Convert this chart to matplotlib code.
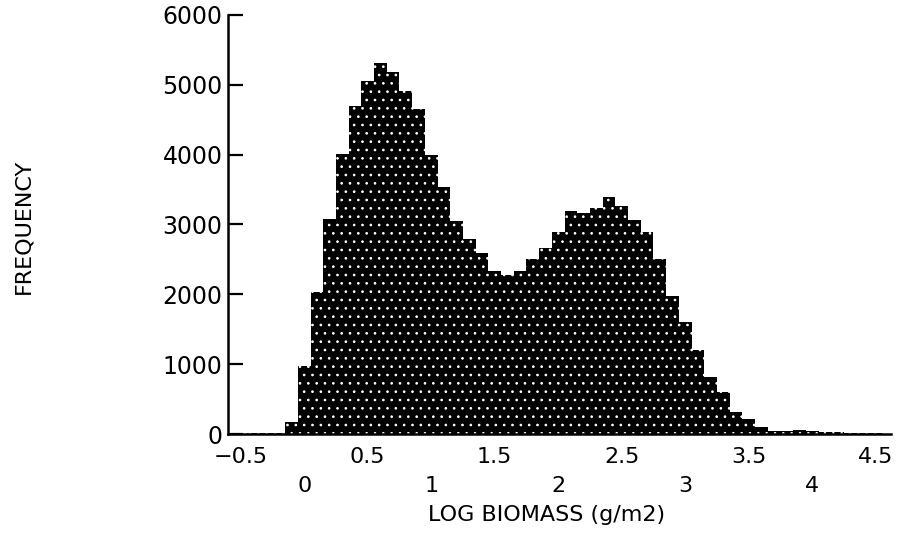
import matplotlib
matplotlib.use('Agg')
import matplotlib.pyplot as plt
import numpy as np

# bin centres (log biomass) and counts
bin_centers = np.round(np.arange(-0.5, 4.51, 0.1), 1)
counts = [5, 10, 10, 20, 170,
          970, 2030, 3080, 4010, 4700, 5060, 5310, 5190, 4910, 4660,
          3990, 3540, 3050, 2790, 2590, 2340, 2270, 2340, 2510, 2660,
          2890, 3190, 3170, 3240, 3390, 3260, 3060, 2890, 2510, 1970,
          1600, 1210, 820, 600, 320, 210, 100,
          50, 40, 60, 40, 30, 25, 20, 20, 15]

half_ticks = [-0.5, 0.5, 1.5, 2.5, 3.5, 4.5]
int_ticks = [0, 1, 2, 3, 4]
y_ticks = [0, 1000, 2000, 3000, 4000, 5000, 6000]

plt.rcParams['font.family'] = 'DejaVu Sans'
plt.rcParams['hatch.color'] = 'white'
plt.rcParams['hatch.linewidth'] = 0.7

fig = plt.figure(figsize=(8.99, 5.39), dpi=100)
ax = fig.add_axes([0.2536, 0.1948, 0.9911 - 0.2536, 0.9722 - 0.1948])

ax.bar(bin_centers, counts, width=0.1, color='black', hatch='..', linewidth=0)

ax.set_xlim(-0.6, 4.62)
ax.set_ylim(0, 6000)

ax.spines['top'].set_visible(False)
ax.spines['right'].set_visible(False)
ax.spines['left'].set_linewidth(1.8)
ax.spines['bottom'].set_linewidth(1.8)

ax.set_yticks(y_ticks)
ax.tick_params(axis='y', direction='in', length=11, width=1.6, pad=4, labelsize=17)

# half values on the upper row, integers on the lower row, no tick marks
ax.set_xticks(half_ticks)
ax.set_xticklabels(['\u22120.5', '0.5', '1.5', '2.5', '3.5', '4.5'])
ax.set_xticks(int_ticks, minor=True)
ax.set_xticklabels([str(t) for t in int_ticks], minor=True)
ax.tick_params(axis='x', which='major', length=0, pad=9, labelsize=16)
ax.tick_params(axis='x', which='minor', length=0, pad=30, labelsize=16)

ax.set_xlabel('LOG BIOMASS (g/m2)', fontsize=16)
ax.xaxis.set_label_coords(0.481, -0.169)
ax.set_ylabel('FREQUENCY', fontsize=16)
ax.yaxis.set_label_coords(-0.294, 0.496)

fig.savefig('out.png', dpi=100)
